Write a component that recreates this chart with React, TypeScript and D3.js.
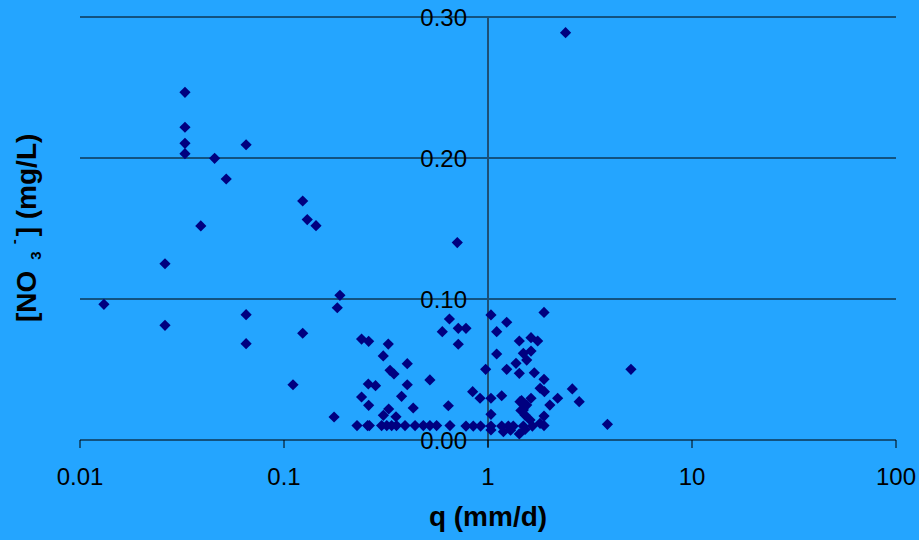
import React from "react";
import * as d3 from "d3";

const W = 919;
const H = 540;

const xTicks = [0.01, 0.1, 1, 10, 100];
const xTickLabels = ["0.01", "0.1", "1", "10", "100"];
const yTicks = [0, 0.1, 0.2, 0.3];
const yTickLabels = ["0.00", "0.10", "0.20", "0.30"];

// q (mm/d)
const qValues = [
  0.0131, 0.0261, 0.0261, 0.0327, 0.0327, 0.0327, 0.0327, 0.0391, 0.0457, 0.0521,
  0.0652, 0.0652, 0.0652, 0.1107, 0.1235, 0.13, 0.1435, 0.1235, 0.176, 0.1825,
  0.188, 0.707, 2.4,
  0.24, 0.26, 0.3245, 0.3066, 0.331, 0.346, 0.402, 0.259, 0.281, 0.402,
  0.519, 0.24, 0.26, 0.377, 0.43, 0.639, 0.326, 0.307, 0.354,
  0.228, 0.257, 0.262, 0.301, 0.319, 0.337, 0.356, 0.392, 0.439, 0.482, 0.519, 0.56, 0.651,
  0.647, 0.597, 0.715, 0.78, 0.715, 0.841, 0.914, 0.974, 1.034, 1.103,
  1.235, 1.882, 1.103, 1.424, 1.625, 1.752, 1.49, 1.625, 1.548, 1.372,
  1.235, 1.424, 1.686, 1.882, 2.59, 2.8, 5.02, 3.85, 1.8, 1.89,
  2.195, 2.01, 1.034, 1.167, 1.034, 1.625, 1.435, 1.548, 1.49, 1.518,
  1.607, 1.882, 1.8, 1.882,
  0.78, 0.847, 0.92, 1.034, 1.167, 1.258, 1.33, 1.49, 1.65,
  1.034, 1.19, 1.424, 1.29, 1.45, 1.46, 1.52,
];

// [NO3-] (mg/L)
const no3Values = [
  0.0962, 0.125, 0.0813, 0.2466, 0.2218, 0.2104, 0.2031, 0.1518, 0.1998, 0.1851,
  0.2094, 0.0889, 0.0683, 0.0392, 0.1695, 0.1563, 0.152, 0.0757, 0.0163, 0.0938,
  0.1026, 0.14, 0.2889,
  0.0716, 0.07, 0.068, 0.0596, 0.0494, 0.0468, 0.0541, 0.0397, 0.0385, 0.0392,
  0.0426, 0.0305, 0.0246, 0.031, 0.0227, 0.0243, 0.022, 0.0175, 0.0165,
  0.0102, 0.0102, 0.0102, 0.0102, 0.0102, 0.0102, 0.0102, 0.0102, 0.0102, 0.0102, 0.0102, 0.0102, 0.0102,
  0.0858, 0.0768, 0.0792, 0.0792, 0.0679, 0.0343, 0.0296, 0.0501, 0.0887, 0.0768,
  0.0835, 0.0905, 0.061, 0.0702, 0.0726, 0.0702, 0.0615, 0.0631, 0.0567, 0.0544,
  0.0501, 0.0473, 0.0477, 0.043, 0.0362, 0.0272, 0.0501, 0.0111, 0.0367, 0.0343,
  0.0296, 0.0248, 0.0296, 0.0314, 0.0182, 0.0296, 0.0272, 0.0248, 0.0213, 0.0177,
  0.0142, 0.017, 0.0118, 0.0102,
  0.0099, 0.0099, 0.0099, 0.0099, 0.0099, 0.0099, 0.0099, 0.0099, 0.0099,
  0.0071, 0.0059, 0.0043, 0.007, 0.021, 0.028, 0.0075,
];

export default function App() {
  const x = d3.scaleLog().domain([0.01, 100]).range([80, 896]);
  const y = d3.scaleLinear().domain([0, 0.3]).range([440, 17]);
  const bg = "#24A5FF";
  const r = 5.6;
  const diamond = (cx: number, cy: number) =>
    `M${cx},${cy - r}L${cx + r},${cy}L${cx},${cy + r}L${cx - r},${cy}Z`;
  const yAxisX = x(1);
  const font = "'Liberation Sans', Arial, sans-serif";

  return (
    <svg
      width={W}
      height={H}
      style={{ position: "absolute", left: 0, top: 0, display: "block" }}
      fontFamily={font}
    >
      <rect x={0} y={0} width={W} height={H} fill={bg} />
      {yTicks.slice(1).map((t) => (
        <line key={"g" + t} x1={x(0.01)} x2={x(100)} y1={y(t)} y2={y(t)} stroke="#000" strokeWidth={1} />
      ))}
      <line x1={yAxisX} x2={yAxisX} y1={y(0.3)} y2={y(0) + 7} stroke="#1d4f75" strokeWidth={2} />
      <line x1={x(0.01)} x2={x(100)} y1={y(0)} y2={y(0)} stroke="#000" strokeWidth={1} />
      {xTicks.map((t, i) => (
        <g key={"xt" + t}>
          <line x1={x(t)} x2={x(t)} y1={y(0)} y2={y(0) + 8} stroke="#000" strokeWidth={1} />
          <text x={x(t)} y={y(0) + 45} fontSize={24} textAnchor="middle" fill="#000">
            {xTickLabels[i]}
          </text>
        </g>
      ))}
      {yTicks.map((t, i) => (
        <text key={"yt" + t} x={yAxisX - 21} y={y(t) + 9} fontSize={24} textAnchor="end" fill="#000">
          {yTickLabels[i]}
        </text>
      ))}
      {qValues.map((q, i) => (
        <path key={"p" + i} d={diamond(x(q), y(no3Values[i]))} fill="#000080" />
      ))}
      <text x={488} y={526} fontSize={28} fontWeight="bold" textAnchor="middle" fill="#000">
        q (mm/d)
      </text>
      <text
        transform="translate(35.5,322) rotate(-90)"
        fontSize={28}
        fontWeight="bold"
        textAnchor="start"
        fill="#000"
      >
        [NO<tspan fontSize={15} dx={11} dy={5}>3</tspan>
        <tspan fontSize={15} dx={7} dy={-22}>-</tspan>
        <tspan dx={3} dy={17}>] (mg/L)</tspan>
      </text>
    </svg>
  );
}
